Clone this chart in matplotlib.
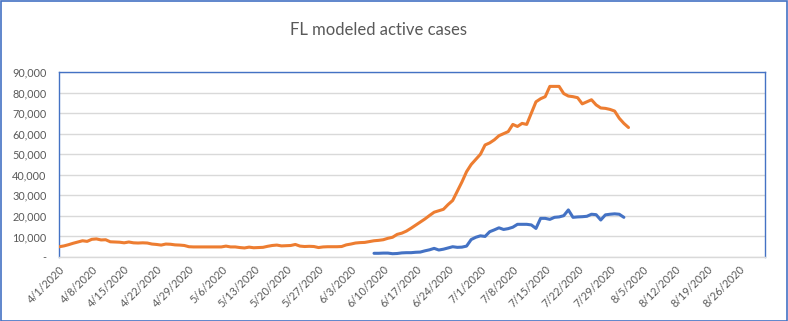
import matplotlib
matplotlib.use("Agg")
import matplotlib.pyplot as plt
import matplotlib.ticker as mticker
import pandas as pd
from matplotlib.patches import Rectangle

# ---- data (thousands of active cases) ----
orange_start = "2020-04-01"
orange_k = [5.0, 5.4, 6.0, 6.7, 7.3, 7.9, 7.6, 8.6, 8.8, 8.3, 8.4, 7.4, 7.3, 7.2, 6.9, 7.3,
            6.9, 6.8, 6.9, 6.8, 6.3, 6.1, 5.8, 6.3, 6.2, 5.9, 5.8, 5.6, 5.0, 4.9, 4.9, 4.9,
            4.9, 4.9, 4.9, 4.9, 5.3, 4.9, 4.9, 4.6, 4.4, 4.8, 4.5, 4.6, 4.7, 5.2, 5.6, 5.8,
            5.4, 5.5, 5.6, 6.1, 5.3, 5.1, 5.2, 5.1, 4.6, 4.9, 5.0, 5.0, 5.0, 5.1, 5.9, 6.3,
            6.8, 7.0, 7.1, 7.5, 7.9, 8.1, 8.4, 9.1, 9.6, 11.0, 11.6, 12.6, 14.0, 15.5, 17.0,
            18.5, 20.2, 21.8, 22.5, 23.2, 25.5, 27.5, 32.0, 36.5, 41.5, 45.0, 47.5, 50.0,
            54.5, 55.5, 57.0, 59.0, 60.0, 61.0, 64.5, 63.5, 65.0, 64.5, 70.0, 75.5, 77.0,
            78.0, 83.0, 83.0, 83.0, 79.5, 78.3, 78.0, 77.5, 74.5, 75.5, 76.5, 74.0, 72.5,
            72.3, 71.8, 71.0, 67.5, 65.0, 63.0]

blue_start = "2020-06-08"
blue_k = [1.8, 1.8, 1.9, 1.9, 1.6, 1.7, 2.0, 2.1, 2.1, 2.3, 2.4, 3.0, 3.5, 4.2, 3.4, 3.8,
          4.4, 5.0, 4.7, 4.8, 5.3, 8.5, 9.6, 10.3, 10.0, 12.3, 13.2, 14.2, 13.4, 13.8, 14.5,
          15.9, 15.9, 15.9, 15.6, 13.9, 18.8, 18.8, 18.3, 19.3, 19.5, 20.1, 22.9, 19.3, 19.5,
          19.6, 19.8, 20.8, 20.6, 18.0, 20.5, 20.8, 21.0, 20.8, 19.3]

tick_start = "2020-04-01"
tick_end = "2020-08-26"
y_ticks = [0, 10000, 20000, 30000, 40000, 50000, 60000, 70000, 80000, 90000]
title = "FL modeled active cases"

# ---- build ----
orange_dates = pd.date_range(orange_start, periods=len(orange_k), freq="D")
blue_dates = pd.date_range(blue_start, periods=len(blue_k), freq="D")
orange_vals = [v * 1000 for v in orange_k]
blue_vals = [v * 1000 for v in blue_k]
tick_dates = pd.date_range(tick_start, tick_end, freq="7D")

plt.rcParams["font.family"] = ["Lato", "DejaVu Sans"]
W, H = 788, 321
fig = plt.figure(figsize=(W / 100, H / 100), dpi=100)
ax = fig.add_axes([59 / W, 1 - 257 / H, (765 - 59) / W, (257 - 72) / H])

grey = "#595959"
ax.plot(orange_dates, orange_vals, color="#ED7D31", lw=2.2, solid_capstyle="round",
        solid_joinstyle="round", zorder=3)
ax.plot(blue_dates, blue_vals, color="#4472C4", lw=2.2, solid_capstyle="round",
        solid_joinstyle="round", zorder=3)

x0 = pd.Timestamp(tick_start)
ax.set_xlim(x0 - pd.Timedelta(hours=2), x0 + pd.Timedelta(days=152.5))
ax.set_ylim(0, 90000)
ax.set_yticks(y_ticks)
ax.yaxis.set_major_formatter(mticker.FuncFormatter(lambda v, p: "-" if v == 0 else f"{v:,.0f}"))
ax.set_xticks(tick_dates)
ax.set_xticklabels([f"{d.month}/{d.day}/{d.year}" for d in tick_dates])
for lab in ax.get_xticklabels():
    lab.set_rotation(45)
    lab.set_ha("right")
    lab.set_va("top")
    lab.set_rotation_mode("anchor")
ax.tick_params(axis="both", length=0, labelsize=7.8, labelcolor=grey)
ax.tick_params(axis="y", pad=9)
ax.tick_params(axis="x", pad=5)
ax.grid(axis="y", color="#d9d9d9", lw=1)
ax.set_axisbelow(True)
for s in ["left", "top", "right"]:
    ax.spines[s].set_color("#4472C4")
    ax.spines[s].set_linewidth(1)
ax.spines["bottom"].set_color("#d9d9d9")
ax.spines["bottom"].set_linewidth(1)

fig.text(378.5 / W, 1 - 30 / H, title, ha="center", va="center", fontsize=12, color=grey)
fig.patches.append(Rectangle((0.5 / W, 0.5 / H), 1 - 1.5 / W, 1 - 1.5 / H,
                             transform=fig.transFigure, fill=False,
                             edgecolor="#4472C4", lw=1.2))
fig.savefig("out.png", dpi=100)
